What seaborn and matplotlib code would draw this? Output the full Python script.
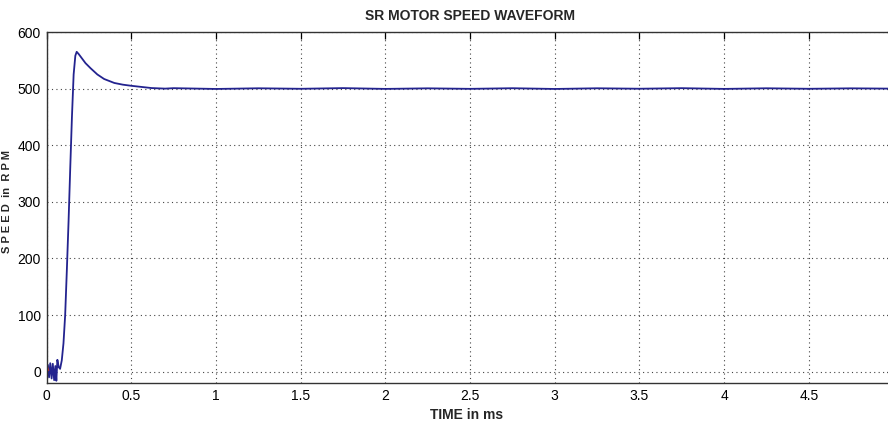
import matplotlib
matplotlib.use("Agg")
import matplotlib.pyplot as plt
import seaborn as sns

# start-up transient (ms, rpm)
time_start = [0.0, 0.008, 0.015, 0.022, 0.03, 0.037, 0.045, 0.052, 0.058, 0.064,
              0.072, 0.08, 0.09, 0.10, 0.11, 0.12, 0.13, 0.14, 0.15, 0.16,
              0.17, 0.178, 0.19, 0.21, 0.23, 0.26, 0.30, 0.34, 0.40, 0.45,
              0.50, 0.56, 0.62, 0.70]
speed_start = [0, 12, -10, 15, -12, 14, -15, 10, -16, 21,
               8, 5, 20, 50, 100, 180, 265, 360, 450, 525,
               558, 565, 561, 553, 545, 536, 525, 517, 510, 507,
               505, 503, 501, 500]

# steady state with small ripple
time_steady = [0.75, 1.0, 1.25, 1.5, 1.75, 2.0, 2.25, 2.5, 2.75, 3.0,
               3.25, 3.5, 3.75, 4.0, 4.25, 4.5, 4.75, 4.97]
speed_steady = [500.8, 499.4, 500.6, 499.7, 500.9, 499.5, 500.5, 499.6, 500.7, 499.4,
                500.6, 499.8, 500.8, 499.5, 500.6, 499.7, 500.5, 500.0]

# short red trace at t = 0
time_red = [0.0, 0.006, 0.012]
speed_red = [-4, 8, 2]

xticks = [0, 0.5, 1, 1.5, 2, 2.5, 3, 3.5, 4, 4.5]
xtick_labels = ["0", "0.5", "1", "1.5", "2", "2.5", "3", "3.5", "4", "4.5"]
yticks = [0, 100, 200, 300, 400, 500, 600]

time_ms = time_start + time_steady
speed_rpm = speed_start + speed_steady

sns.set_style("white")
plt.rcParams["font.family"] = ["Liberation Sans", "DejaVu Sans"]

fig = plt.figure(figsize=(8.88, 4.25), dpi=100)
ax = fig.add_axes([0.0524, 0.0988, 0.9538, 0.8259])

sns.lineplot(x=time_ms, y=speed_rpm, ax=ax, color="#23238f", linewidth=1.3)
sns.lineplot(x=time_red, y=speed_red, ax=ax, color="#c03030", linewidth=1.0)

ax.set_xlim(0, 5)
ax.set_ylim(-20, 600)
ax.set_xticks(xticks)
ax.set_xticklabels(xtick_labels)
ax.set_yticks(yticks)
ax.grid(True, linestyle=(0, (1, 3)), color="#444444", linewidth=0.8)
ax.tick_params(direction="in", top=True, right=True, length=5, width=0.9,
               labelsize=10, pad=4, colors="black")
for spine in ax.spines.values():
    spine.set_color("#333333")
    spine.set_linewidth(1.0)

ax.set_title("SR MOTOR SPEED WAVEFORM", fontsize=10, fontweight="bold", pad=9)
ax.set_xlabel("TIME in ms", fontsize=10, fontweight="bold")
ax.xaxis.set_label_coords(0.4965, -0.072)
ax.set_ylabel("S P E E D  in  R P M", fontsize=8, fontweight="bold")
ax.yaxis.set_label_coords(-0.041, 0.516)

fig.savefig("out.png", dpi=100)
plt.close(fig)
